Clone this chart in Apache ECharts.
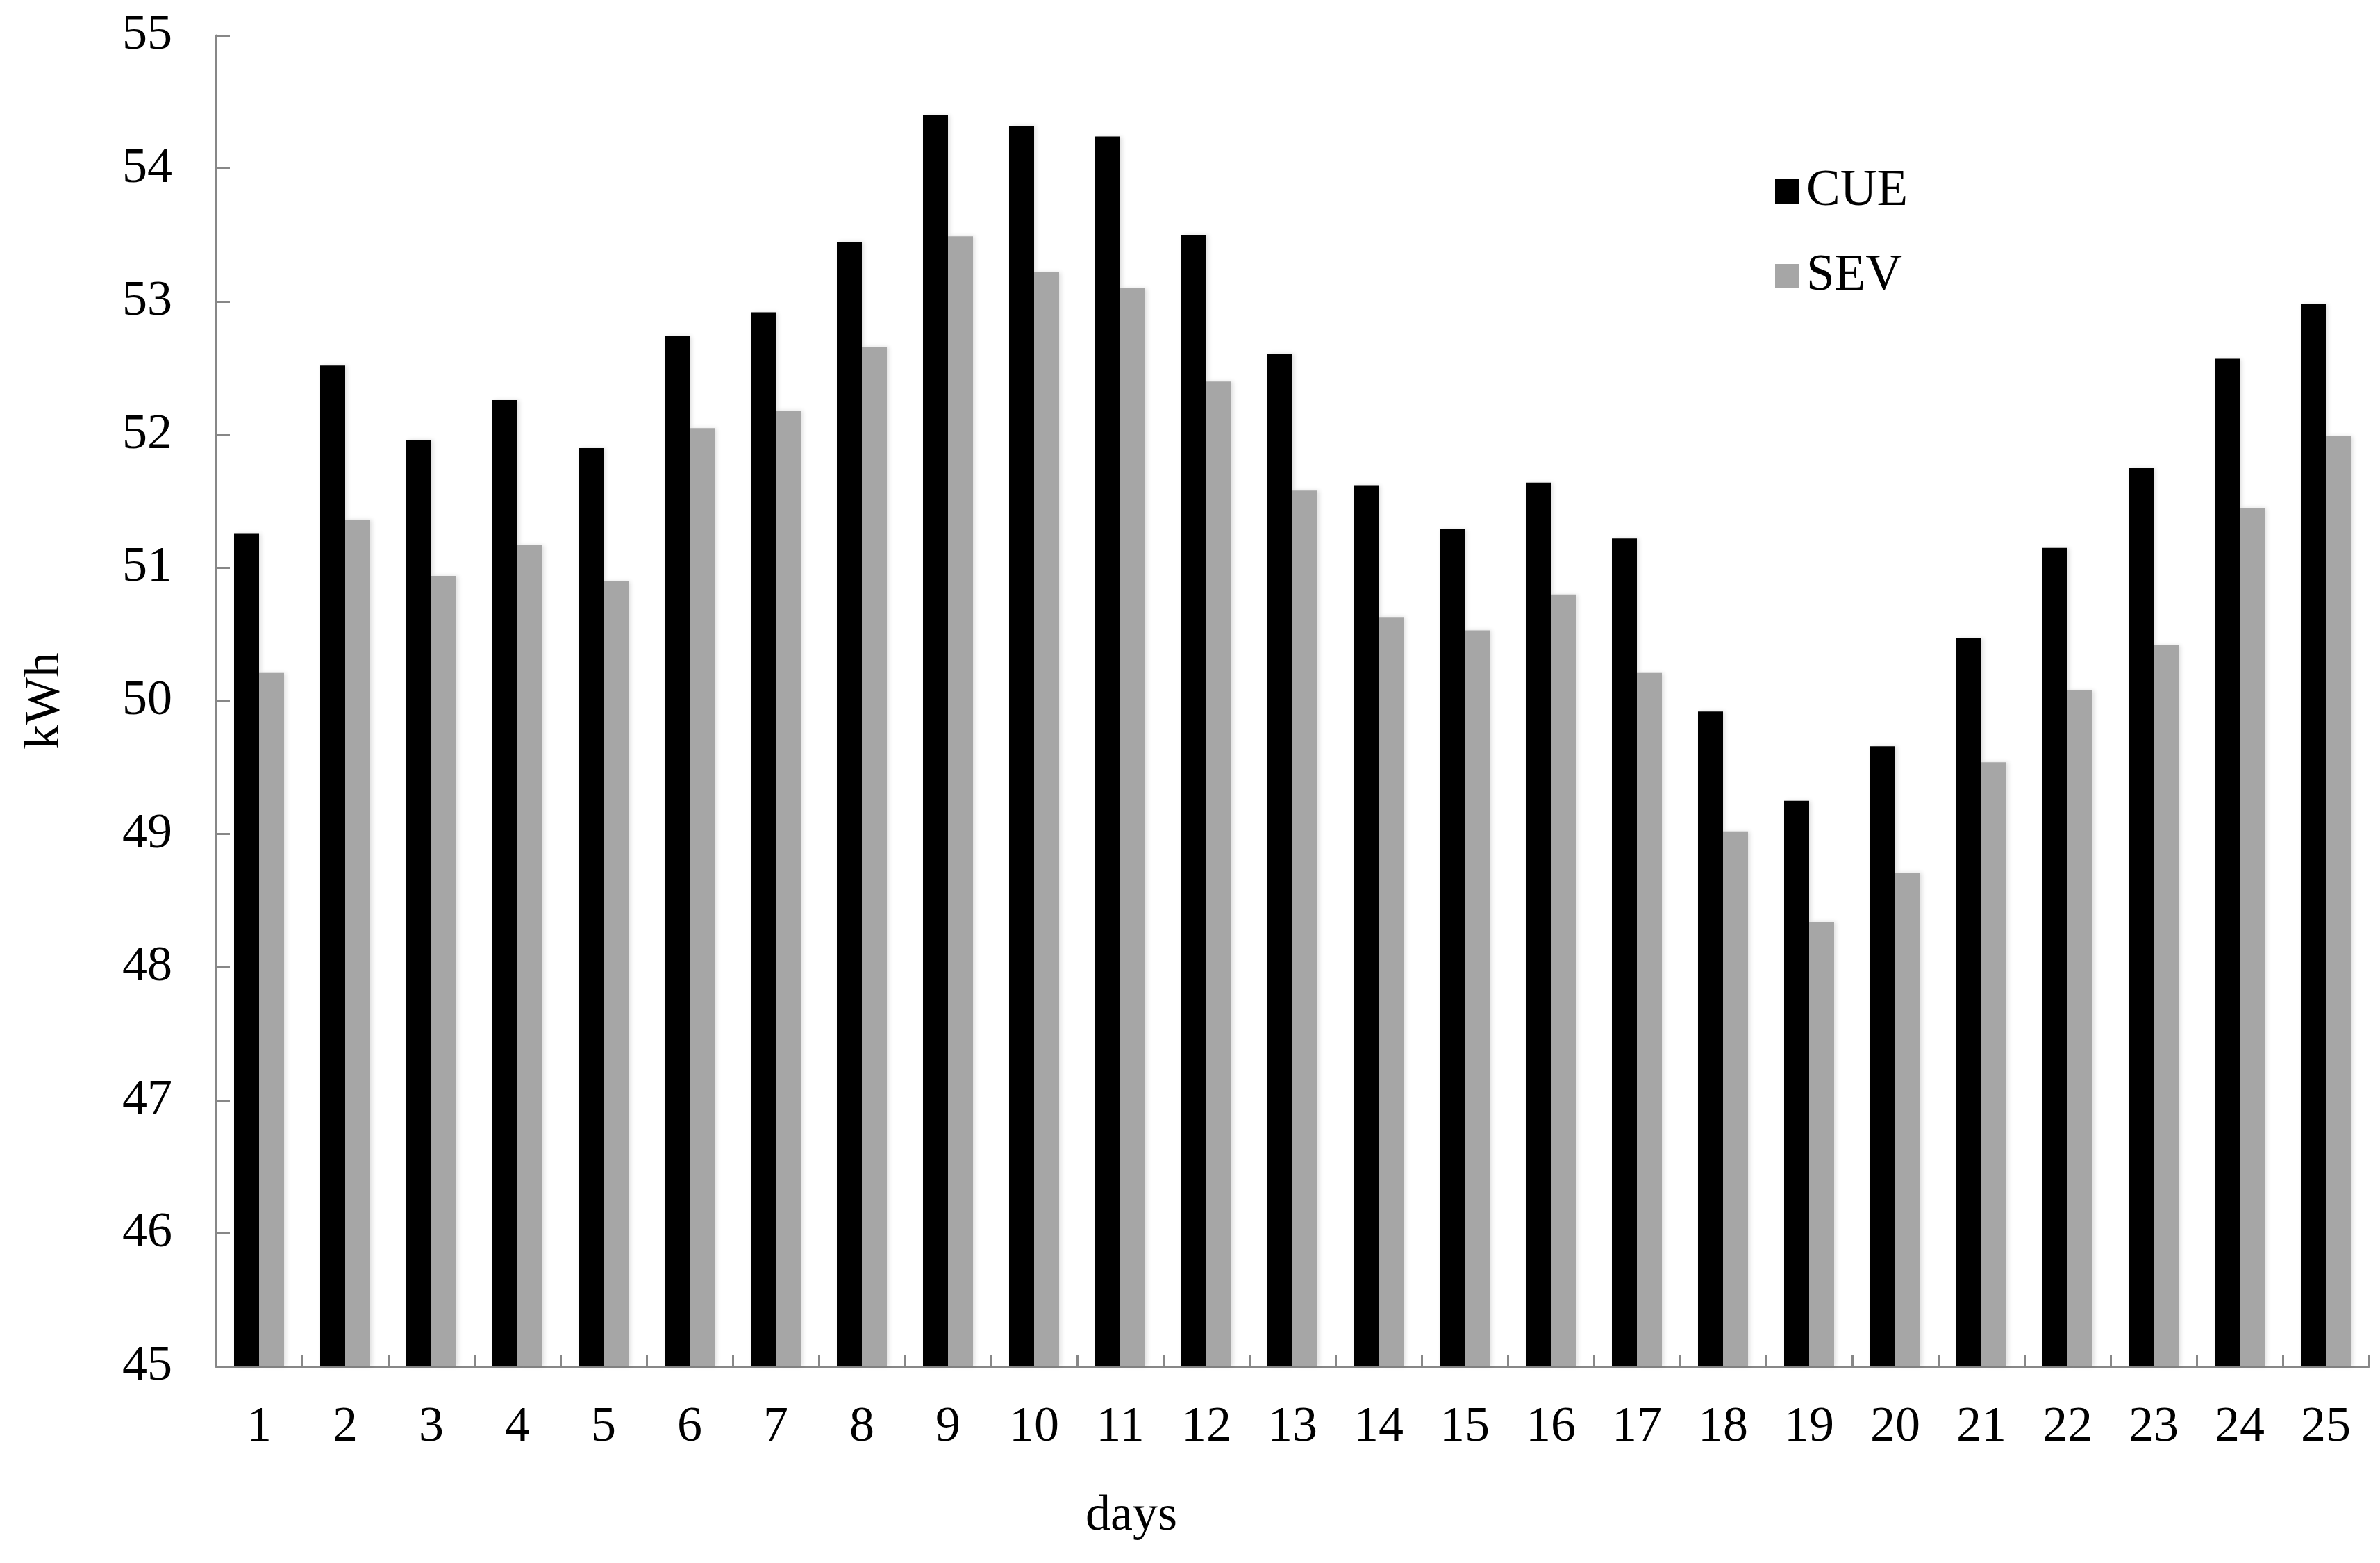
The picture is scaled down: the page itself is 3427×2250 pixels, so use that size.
<!DOCTYPE html>
<html>
<head>
<meta charset="utf-8">
<script src="https://cdn.jsdelivr.net/npm/echarts@6/dist/echarts.min.js"></script>
<style>
  html, body { margin: 0; padding: 0; background: #fff; }
  #chart { width: 3427px; height: 2250px; }
</style>
</head>
<body>
<div id="chart"></div>
<script>
// days 1..25
const days = ['1', '2', '3', '4', '5', '6', '7', '8', '9', '10', '11', '12', '13',
  '14', '15', '16', '17', '18', '19', '20', '21', '22', '23', '24', '25'];

const cueValues = [51.26, 52.52, 51.96, 52.26, 51.90, 52.74, 52.92, 53.45, 54.40, 54.32,
  54.24, 53.50, 52.61, 51.62, 51.29, 51.64, 51.22, 49.92, 49.25, 49.66,
  50.47, 51.15, 51.75, 52.57, 52.98];

const sevValues = [50.21, 51.36, 50.94, 51.17, 50.90, 52.05, 52.18, 52.66, 53.49, 53.22,
  53.10, 52.40, 51.58, 50.63, 50.53, 50.80, 50.21, 49.02, 48.34, 48.71,
  49.54, 50.08, 50.42, 51.45, 51.99];

const yTicks = [45, 46, 47, 48, 49, 50, 51, 52, 53, 54, 55];

const font = 'Liberation Serif, Times New Roman, serif';
const axisGray = '#878787';

const chart = echarts.init(document.getElementById('chart'));

const barShadow = {
  shadowColor: 'rgba(0,0,0,0.12)',
  shadowBlur: 6,
  shadowOffsetX: 3
};

const option = {
  backgroundColor: '#fff',
  animation: false,
  textStyle: { fontFamily: font },
  grid: {
    left: 311,
    right: 16,
    top: 51,
    bottom: 283,
    containLabel: false
  },
  legend: {
    orient: 'vertical',
    left: 2551,
    top: 234,
    itemWidth: 35,
    itemHeight: 35,
    itemGap: 49,
    icon: 'rect',
    data: ['CUE', 'SEV'],
    textStyle: {
      fontFamily: font,
      fontSize: 73,
      color: '#000',
      padding: [0, 0, 0, 5]
    }
  },
  xAxis: {
    type: 'category',
    data: days,
    boundaryGap: true,
    axisLine: { show: true, lineStyle: { color: axisGray, width: 3 } },
    axisTick: {
      show: true,
      inside: true,
      length: 17,
      alignWithLabel: false,
      lineStyle: { color: axisGray, width: 3 }
    },
    axisLabel: {
      fontFamily: font,
      fontSize: 72,
      color: '#000',
      margin: 52
    },
    splitLine: { show: false }
  },
  yAxis: {
    type: 'value',
    min: yTicks[0],
    max: yTicks[yTicks.length - 1],
    interval: 1,
    name: 'kWh',
    nameLocation: 'middle',
    nameRotate: 90,
    nameGap: 210,
    nameTextStyle: { fontFamily: font, fontSize: 72, color: '#000' },
    axisLine: { show: true, lineStyle: { color: axisGray, width: 3 } },
    axisTick: {
      show: true,
      inside: true,
      length: 20,
      lineStyle: { color: axisGray, width: 3 }
    },
    axisLabel: {
      fontFamily: font,
      fontSize: 72,
      color: '#000',
      margin: 63
    },
    splitLine: { show: false }
  },
  graphic: [
    {
      type: 'text',
      left: 1628 - 65,
      top: 2147,
      style: {
        text: 'days',
        fontFamily: font,
        fontSize: 72,
        fill: '#000'
      }
    }
  ],
  series: [
    {
      name: 'CUE',
      type: 'bar',
      data: cueValues,
      barWidth: 36,
      barGap: '0%',
      itemStyle: Object.assign({ color: '#000' }, barShadow)
    },
    {
      name: 'SEV',
      type: 'bar',
      data: sevValues,
      barWidth: 36,
      barGap: '0%',
      itemStyle: Object.assign({ color: '#a6a6a6' }, barShadow)
    }
  ]
};

chart.setOption(option);
</script>
</body>
</html>
